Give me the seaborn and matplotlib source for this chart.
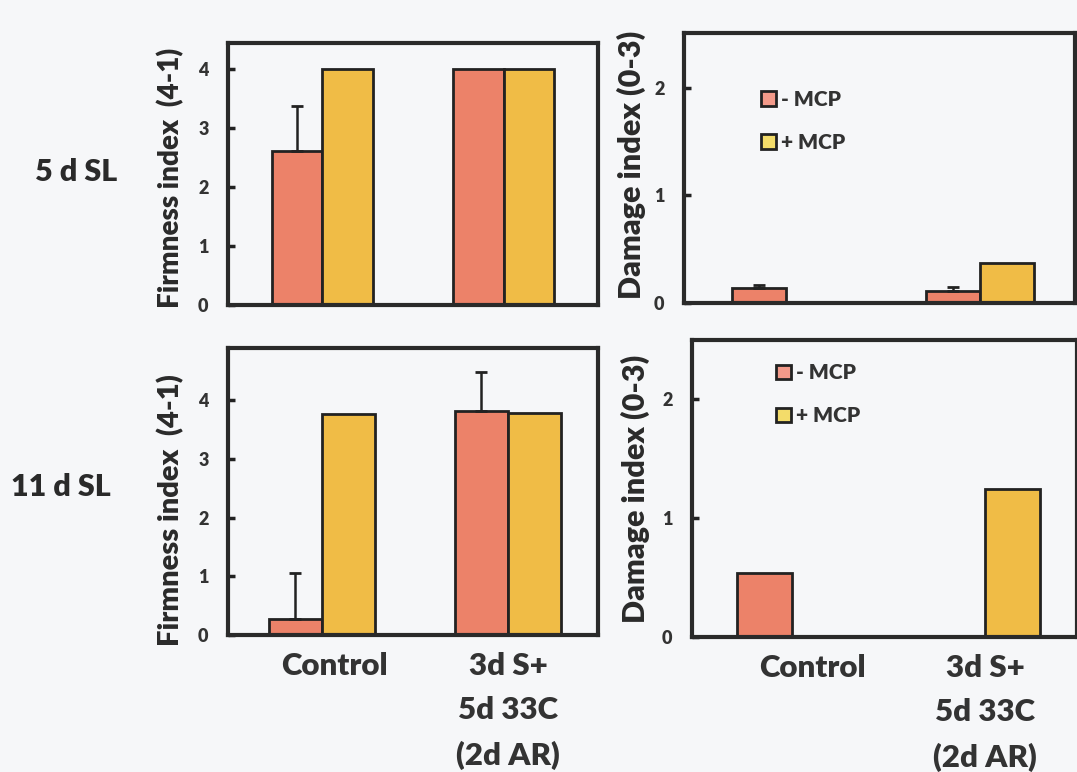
"""
Firmness and damage index, 5 d and 11 d shelf life
"""
import matplotlib
matplotlib.use('Agg')
import pandas as pd
import seaborn as sns
from matplotlib import pyplot as plt
from matplotlib.patches import Patch
from matplotlib.transforms import ScaledTranslation

#######################################################################################
# Data (order of each list: Control -MCP, Control +MCP, Treat -MCP, Treat +MCP)
conditions = ['Control', '3d S+\n5d 33C\n(2d AR)']
treatments = ['- MCP', '+ MCP']

firm_5d = [2.62, 4.0, 4.0, 4.0]
firm_5d_err = [0.76, 0, 0, 0]
damage_5d = [0.14, 0.0, 0.11, 0.37]
damage_5d_err = [0.03, 0, 0.04, 0]
firm_11d = [0.27, 3.76, 3.81, 3.79]
firm_11d_err = [0.79, 0, 0.67, 0]
damage_11d = [0.54, 0.0, 0.0, 1.25]
damage_11d_err = [0, 0, 0, 0]

row_labels = ['5 d SL', '11 d SL']
firm_label = 'Firmness index  (4-1)'
damage_label = 'Damage index (0-3)'

bar_colors = ['#ec8269', '#f0bc46']
legend_colors = ['#f39a8a', '#f3dc6a']
bg = '#f6f7f9'
W8 = 'heavy'


def make_frame(values, errors):
    rows = []
    i = 0
    for cond in conditions:
        for trt in treatments:
            rows.append({'condition': cond, 'MCP': trt,
                         'value': values[i], 'err': errors[i]})
            i += 1
    return pd.DataFrame(rows)


#######################################################################################
# Plot
sns.set_style('white')
plt.rcParams['font.family'] = ['Lato', 'DejaVu Sans']
plt.rcParams['font.weight'] = W8

W, H = 1077, 772
fig = plt.figure(figsize=(W / 100, H / 100), dpi=100, facecolor=bg)


def px_rect(x0, x1, y0, y1):
    return [x0 / W, 1 - y1 / H, (x1 - x0) / W, (y1 - y0) / H]


panels = [
    dict(rect=px_rect(228, 598, 43, 305), xlim=(-0.52, 1.52), ylim=(0, 4.45),
         yticks=[0, 1, 2, 3, 4], vals=firm_5d, errs=firm_5d_err, width=0.56,
         ylabel=firm_label, lab_xy=(-0.118, 0.485), lab_size=20, xt=False, legend=None,
         shift=0),
    dict(rect=px_rect(684, 1075, 33, 303), xlim=(-0.526, 1.49), ylim=(0, 2.51),
         yticks=[0, 1, 2], vals=damage_5d, errs=damage_5d_err, width=0.56,
         ylabel=damage_label, lab_xy=(-0.097, 0.51), lab_size=22, xt=False,
         legend=(0.15, 0.86), shift=0),
    dict(rect=px_rect(228, 598, 348, 635), xlim=(-0.505, 1.484), ylim=(0, 4.89),
         yticks=[0, 1, 2, 3, 4], vals=firm_11d, errs=firm_11d_err, width=0.57,
         ylabel=firm_label, lab_xy=(-0.118, 0.435), lab_size=21, xt=True, legend=None,
         shift=12),
    dict(rect=px_rect(692, 1077, 340, 637), xlim=(-0.518, 1.477), ylim=(0, 2.5),
         yticks=[0, 1, 2], vals=damage_11d, errs=damage_11d_err, width=0.57,
         ylabel=damage_label, lab_xy=(-0.109, 0.5), lab_size=22, xt=True,
         legend=(0.17, 0.985), shift=20),
]

for p in panels:
    ax = fig.add_axes(p['rect'])
    ax.set_facecolor(bg)
    df = make_frame(p['vals'], p['errs'])
    sns.barplot(data=df, x='condition', y='value', hue='MCP', order=conditions,
                hue_order=treatments, palette=bar_colors, width=p['width'],
                edgecolor='#222222', linewidth=2.0, saturation=1, errorbar=None,
                legend=False, ax=ax)

    # upward error bars, matched to bars by their position
    for patch in ax.patches:
        xc = patch.get_x() + patch.get_width() / 2
        cat = int(round(xc))
        trt = 0 if xc < cat else 1
        row = df[(df['condition'] == conditions[cat]) & (df['MCP'] == treatments[trt])]
        err = row['err'].iloc[0]
        if err > 0:
            ax.errorbar(xc, patch.get_height(), yerr=[[0], [err]], fmt='none',
                        ecolor='#222222', elinewidth=1.8, capsize=4, capthick=2)

    ax.set_xlim(*p['xlim'])
    ax.set_ylim(*p['ylim'])
    ax.set_yticks(p['yticks'])
    ax.tick_params(axis='y', direction='in', length=5, width=2.5, color='#222222',
                   labelsize=13, pad=14, left=True)
    ax.tick_params(axis='x', bottom=False, length=0, labelsize=22.5, pad=12)
    for lab in ax.get_yticklabels():
        lab.set_fontweight(W8)
        lab.set_color('#333333')
    if p['xt']:
        ax.set_xticks(range(len(conditions)))
        ax.set_xticklabels(conditions, fontweight=W8, color='#333333',
                           linespacing=1.7)
        first = ax.get_xticklabels()[0]
        first.set_transform(first.get_transform()
                            + ScaledTranslation(p['shift'] / 100, 0, fig.dpi_scale_trans))
    else:
        ax.set_xticklabels([])
    ax.set_xlabel('')
    ax.set_ylabel(p['ylabel'], fontsize=p['lab_size'], fontweight=W8, color='#2a2a2a')
    ax.yaxis.set_label_coords(*p['lab_xy'])
    for spine in ax.spines.values():
        spine.set_visible(True)
        spine.set_linewidth(3)
        spine.set_color('#2a2a2a')

    if p['legend'] is not None:
        handles = [Patch(facecolor=c, edgecolor='#222222', linewidth=2)
                   for c in legend_colors]
        leg = ax.legend(handles, treatments, loc='upper left', bbox_to_anchor=p['legend'],
                        frameon=False, handlelength=0.7, handleheight=0.7,
                        handletextpad=0.25, labelspacing=1.15,
                        prop={'weight': W8, 'size': 15})
        for t in leg.get_texts():
            t.set_color('#333333')

fig.text(76 / W, 1 - 172 / H, row_labels[0], fontsize=22, fontweight=W8,
         color='#2a2a2a', ha='center', va='center')
fig.text(61 / W, 1 - 487 / H, row_labels[1], fontsize=22, fontweight=W8,
         color='#2a2a2a', ha='center', va='center')

fig.savefig('out.png', dpi=100, facecolor=bg)
